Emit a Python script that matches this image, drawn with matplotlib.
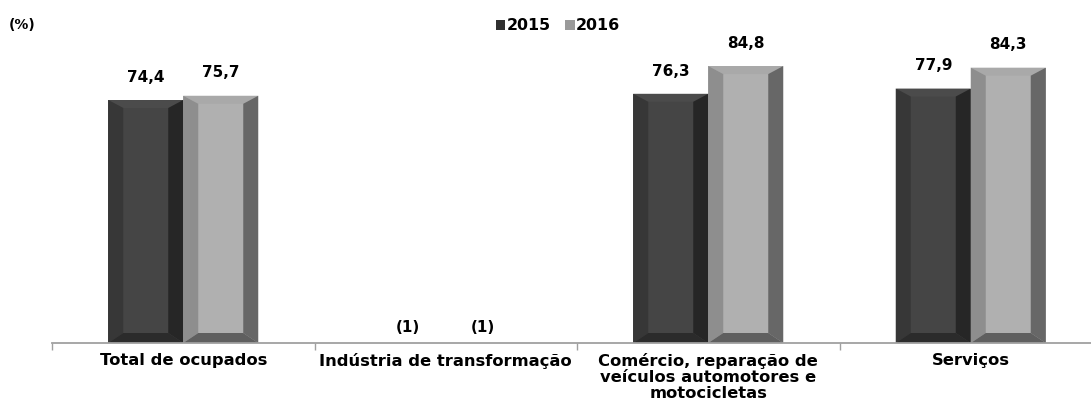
import numpy as np
import matplotlib
matplotlib.use('Agg')
import matplotlib.pyplot as plt
from matplotlib.patches import Polygon, Patch

plt.rcParams['font.family'] = ['DejaVu Sans']
plt.rcParams['font.weight'] = 'bold'

# Data
categories = ['Total de ocupados', 'Indústria de transformação',
              'Comércio, reparação de\nveículos automotores e\nmotocicletas', 'Serviços']
years = ['2015', '2016']
v2015 = [74.4, np.nan, 76.3, 77.9]
v2016 = [75.7, np.nan, 84.8, 84.3]
missing_note = '(1)'

# colours: face, top, left, right, bottom bevel
shades = {
    '2015': ['#454545', '#4b4b4b', '#373737', '#262626', '#2b2b2b'],
    '2016': ['#b0b0b0', '#a9a9a9', '#8e8e8e', '#676767', '#5f5f5f'],
}

W, H = 1091, 405
fig = plt.figure(figsize=(W / 100, H / 100), dpi=100)
ax_left, ax_bot, ax_top = 52, 343, 20
ax = fig.add_axes([ax_left / W, (H - ax_bot) / H, (W - ax_left) / W, (ax_bot - ax_top) / H])

cat_px = 262.5
x = np.arange(len(categories))
bw = 75 / cat_px
xlim = (-0.5, -0.5 + (W - ax_left) / cat_px)
ymax = (ax_bot - ax_top) / 3.266

# pixel -> data conversions for bevel sizes
px_x = 1 / cat_px
px_y = ymax / (ax_bot - ax_top)
bev_x, bev_top, bev_bot = 15 * px_x, 8 * px_y, 10 * px_y


def bevel_bars(xs, vals, cols):
    bars = ax.bar(xs, vals, width=bw, color=cols[0], linewidth=0, zorder=2)
    for b in bars:
        h = b.get_height()
        if np.isnan(h):
            continue
        x0, x1 = b.get_x(), b.get_x() + b.get_width()
        polys = [
            ([(x0, h), (x1, h), (x1 - bev_x, h - bev_top), (x0 + bev_x, h - bev_top)], cols[1]),
            ([(x0, 0), (x0, h), (x0 + bev_x, h - bev_top), (x0 + bev_x, bev_bot)], cols[2]),
            ([(x1, 0), (x1, h), (x1 - bev_x, h - bev_top), (x1 - bev_x, bev_bot)], cols[3]),
            ([(x0, 0), (x1, 0), (x1 - bev_x, bev_bot), (x0 + bev_x, bev_bot)], cols[4]),
        ]
        for pts, c in polys:
            ax.add_patch(Polygon(pts, closed=True, facecolor=c, edgecolor='none', zorder=3))
    return bars


for vals, yr, off in [(v2015, '2015', -bw / 2), (v2016, '2016', bw / 2)]:
    bevel_bars(x + off, vals, shades[yr])
    for xi, v in zip(x + off, vals):
        if np.isnan(v):
            ax.annotate(missing_note, (xi, 0), xytext=(0, 6), textcoords='offset points',
                        ha='center', va='bottom', fontsize=11, fontweight='bold')
        else:
            ax.annotate(f'{v:.1f}'.replace('.', ','), (xi, v), xytext=(0, 11),
                        textcoords='offset points', ha='center', va='bottom',
                        fontsize=11, fontweight='bold')

# axes styling
for s in ['top', 'right', 'left']:
    ax.spines[s].set_visible(False)
ax.spines['bottom'].set_color('#a0a0a0')
ax.spines['bottom'].set_linewidth(1.3)
ax.spines['bottom'].set_zorder(4)
ax.set_yticks([])
ax.set_xticks(x)
ax.set_xticklabels(categories, fontsize=11.8, fontweight='bold', linespacing=1.08)
ax.tick_params(axis='x', which='major', length=0, pad=7.5)
ax.set_xticks(np.arange(-0.5, len(categories), 1.0), minor=True)
ax.tick_params(axis='x', which='minor', length=5, width=1, color='#a0a0a0')

# limits last so the tick setters cannot widen them
ax.set_xlim(*xlim)
ax.set_ylim(0, ymax)

fig.text(9 / W, 1 - 25 / H, '(%)', fontsize=10, fontweight='bold', va='center')

handles = [Patch(facecolor='#303030', edgecolor='none'),
           Patch(facecolor='#9a9a9a', edgecolor='none')]
fig.legend(handles, years, loc='center', bbox_to_anchor=(558 / W, 1 - 26 / H), ncol=2,
           frameon=False, handlelength=0.6, handleheight=0.6,
           handletextpad=0.1, columnspacing=0.9, prop={'weight': 'bold', 'size': 11.4})

fig.savefig('out.png', dpi=100)
